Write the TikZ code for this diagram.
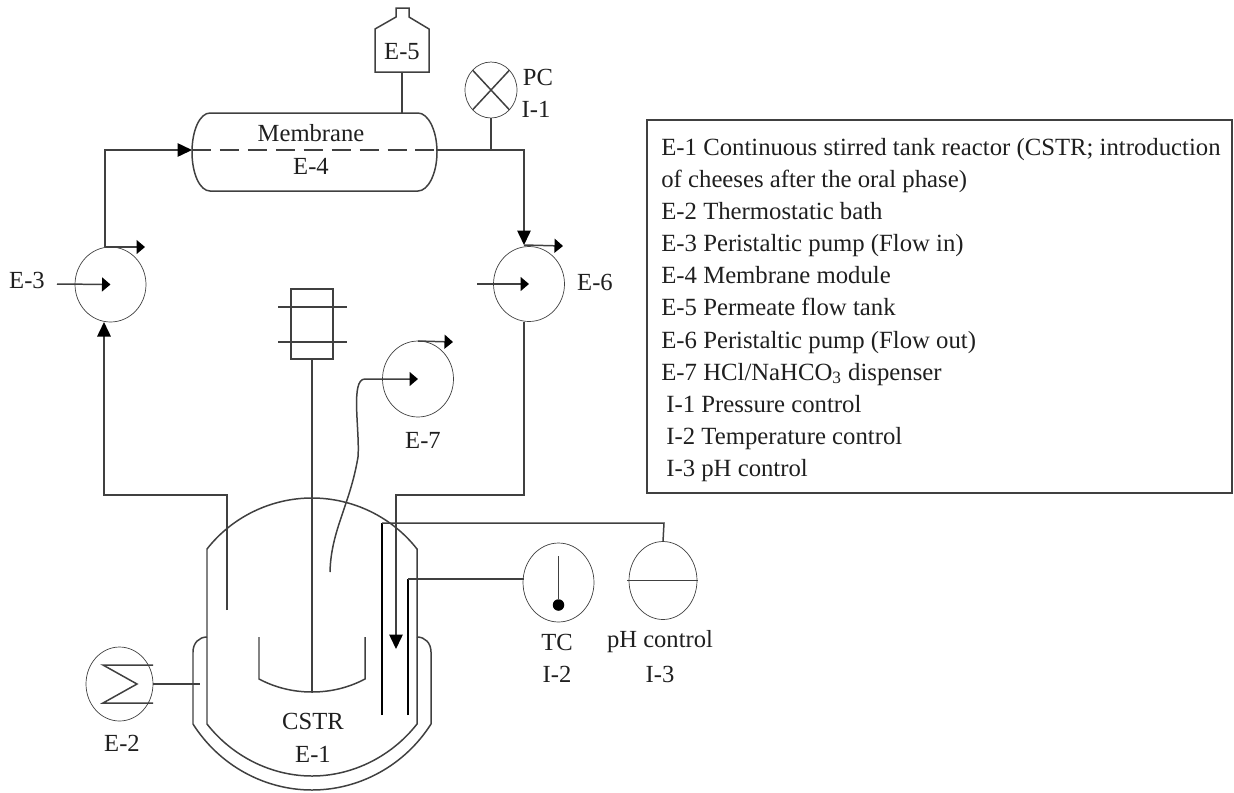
\documentclass[tikz,border=0pt]{standalone}
\usepackage{fontspec}
\setmainfont{Liberation Serif}
\usepackage{tikz}
\usetikzlibrary{shapes,arrows.meta}
\definecolor{pipecol}{gray}{0.25}
\definecolor{textcol}{gray}{0.12}
\tikzset{
  unit/.style={draw=pipecol, ellipse, inner sep=0pt, outer sep=0pt},
  pumpunit/.style={unit, minimum width=1.42cm, minimum height=1.5cm},
  lbl/.style={text=textcol, font=\fontsize{14}{16}\selectfont, inner sep=0pt},
  pipe/.style={draw=pipecol, line width=0.85pt},
  heavy/.style={draw=black, line width=1.6pt},
  bigtip/.tip={Triangle[length=0.29cm, width=0.27cm, color=black]},
  smalltip/.tip={Triangle[length=0.17cm, width=0.28cm, color=black]},
}

\begin{document}
\begin{tikzpicture}[x=0.02cm, y=-0.02cm]
            \useasboundingbox (0,0) rectangle (1234,792);

            % units
            \node (pumpin) [pumpunit] at (110.5,284.5) {};
            \node (pumpout) [pumpunit] at (529,284) {};
            \node (dispenser) [pumpunit, minimum height=1.52cm] at (418,379) {};
            \node (bath) [unit, minimum width=1.34cm, minimum height=1.48cm] at (119.5,684) {};
            \node (pressure) [unit, minimum width=1.04cm, minimum height=1.12cm] at (491,90) {};
            \node (tempctrl) [unit, minimum width=1.42cm, minimum height=1.58cm] at (558.5,582.5) {};
            \node (phctrl) [unit, minimum width=1.36cm, minimum height=1.56cm] at (663,580.5) {};
            \node (tempdot) [fill=black, circle, inner sep=0pt, minimum size=0.23cm] at (558.5,605) {};
            \coordinate (temptop) at (558.5,556);

            % free ends of the connectors
            \coordinate (dipin) at (227,610);
            \coordinate (dipout) at (396,649);
            \coordinate (memleft) at (192,150);
            \coordinate (memright) at (437,150);
            \coordinate (memtop) at (402,113);
            \coordinate (tankbase) at (402,72);
            \coordinate (pressurefoot) at (491,150);
            \coordinate (pumpinfoot) at (104,322);
            \coordinate (pumpintop) at (105,247);
            \coordinate (pumpouttop) at (524,245);
            \coordinate (pumpoutfoot) at (524,322);
            \coordinate (probeph) at (382,523);
            \coordinate (probetc) at (408,579);
            \coordinate (probephend) at (382,715);
            \coordinate (probetcend) at (408,715);
            \coordinate (tempside) at (523.5,579);
            \coordinate (shafttop) at (312,359);
            \coordinate (shaftend) at (312,692);
            \coordinate (jacketin) at (200,684);
            \coordinate (phleft) at (627,580.5);
            \coordinate (phright) at (698,580.5);

            % vessel and jacket
            \draw [pipe] (207,724) -- (207,549) .. controls (232,517) and (271,498) .. (312,498)
                  .. controls (353,498) and (392,517) .. (417,549) -- (417,724)
                  .. controls (392,756) and (353,776) .. (312,776)
                  .. controls (271,776) and (232,756) .. (207,724);
            \draw [pipe] (207,637) .. controls (199,637) and (193,643) .. (193,652) -- (193,724)
                  .. controls (219,765) and (264,790) .. (312,790)
                  .. controls (360,790) and (405,765) .. (431,724) -- (431,652)
                  .. controls (431,643) and (425,637) .. (417,637);
            \draw [pipe] (259,637) -- (259,679) .. controls (276,688) and (294,692) .. (312,692)
                  .. controls (330,692) and (348,688) .. (365,679) -- (365,637);

            % stirrer
            \draw [pipe] (291,289) rectangle (333,359)
                  (278,307) -- (347,307)
                  (278,342) -- (347,342);
            \draw [pipe] (shafttop) -- (shaftend);

            % membrane and permeate tank
            \draw [pipe] (210,113) -- (418,113) .. controls (428,113) and (437,130) .. (437,152)
                  .. controls (437,174) and (428,191) .. (418,191) -- (210,191)
                  .. controls (200,191) and (192,174) .. (192,152)
                  .. controls (192,130) and (200,113) .. (210,113);
            \draw [pipe, dash pattern=on 10.8pt off 5.1pt] (memleft) -- (memright);
            \draw [pipe] (375,72) -- (429,72) -- (429,29) -- (409,17) -- (409,8) -- (396,8)
                  -- (396,17) -- (375,29) -- cycle;
            \draw [pipe] (tankbase) -- (memtop);

            % pipes
            \draw [pipe, -bigtip] (dipin) -- (227,495) -| (pumpinfoot);
            \draw [pipe, -bigtip] (pumpintop) |- (memleft);
            \draw [pipe, -bigtip] (memright) -| (pumpouttop);
            \draw [pipe, -bigtip] (pumpoutfoot) |- (396,495) -- (dipout);
            \draw [pipe] (pressure) -- (pressurefoot);
            \draw [pipe] (bath.east) -- (jacketin);
            \draw [heavy] (probephend) -- (probeph);
            \draw [heavy] (probetcend) -- (probetc);
            \draw [pipe] (probeph) -- (664,523) -- (phctrl.north);
            \draw [pipe] (probetc) -- (tempside);
            \draw [pipe] (tempdot) -- (temptop);
            \draw [pipe] (phleft) -- (phright);
            \draw [pipe] (pressure.north west) -- (pressure.south east)
                  (pressure.north east) -- (pressure.south west);
            \draw [pipe] (153,665) -- (103,665) -- (137,684) -- (103,703) -- (153,703);

            % flow marks of the pumps
            \draw [pipe, -smalltip] (57,284) -- (pumpin.center);
            \draw [pipe, -smalltip] (pumpintop) -- (145,247);
            \draw [pipe, -smalltip] (477,284) -- (pumpout.center);
            \draw [pipe, -smalltip] (pumpouttop) -- (563,246);
            \draw [pipe, -smalltip] (dispenser.north) -- (453,342);
            \draw [pipe, -smalltip] (330,572) .. controls (331,530) and (350,505) .. (358,457)
                  .. controls (360,430) and (350,379) .. (365,379) -- (dispenser.center);

            % labels
            \node (namee1) [lbl, align=center] at (313,738) {CSTR\\[3pt]E-1};
            \node (namee2) [lbl] at (122,743) {E-2};
            \node (namee3) [lbl] at (27,280) {E-3};
            \node (namee4a) [lbl] at (311,133) {Membrane};
            \node (namee4b) [lbl] at (311,166) {E-4};
            \node (namee5) [lbl] at (402,52) {E-5};
            \node (namee6) [lbl] at (595,282) {E-6};
            \node (namee7) [lbl] at (423,440) {E-7};
            \node (namei1a) [lbl] at (538,77) {PC};
            \node (namei1b) [lbl] at (536,109) {I-1};
            \node (namei2a) [lbl] at (557,642) {TC};
            \node (namei2b) [lbl] at (557,674) {I-2};
            \node (namei3a) [lbl] at (660,642) {pH control};
            \node (namei3b) [lbl] at (660,674) {I-3};

            % legend
            \node (legend) [draw=pipecol, line width=0.85pt, anchor=north west, outer sep=0pt,
                  minimum width=11.7cm, minimum height=7.46cm] at (647,120) {};
            \node (legendtext) [anchor=west, text=textcol, inner sep=0pt, align=left,
                  font=\fontsize{14.08}{18.25}\selectfont] at (661,310)
                  {E-1 Continuous stirred tank reactor (CSTR; introduction\\
                   of cheeses after the oral phase)\\
                   E-2 Thermostatic bath\\
                   E-3 Peristaltic pump (Flow in)\\
                   E-4 Membrane module\\
                   E-5 Permeate flow tank\\
                   E-6 Peristaltic pump (Flow out)\\
                   E-7 HCl/NaHCO\textsubscript{3} dispenser\\
                   \hspace*{0.1cm}I-1 Pressure control\\
                   \hspace*{0.1cm}I-2 Temperature control\\
                   \hspace*{0.1cm}I-3 pH control};
\end{tikzpicture}
\end{document}
